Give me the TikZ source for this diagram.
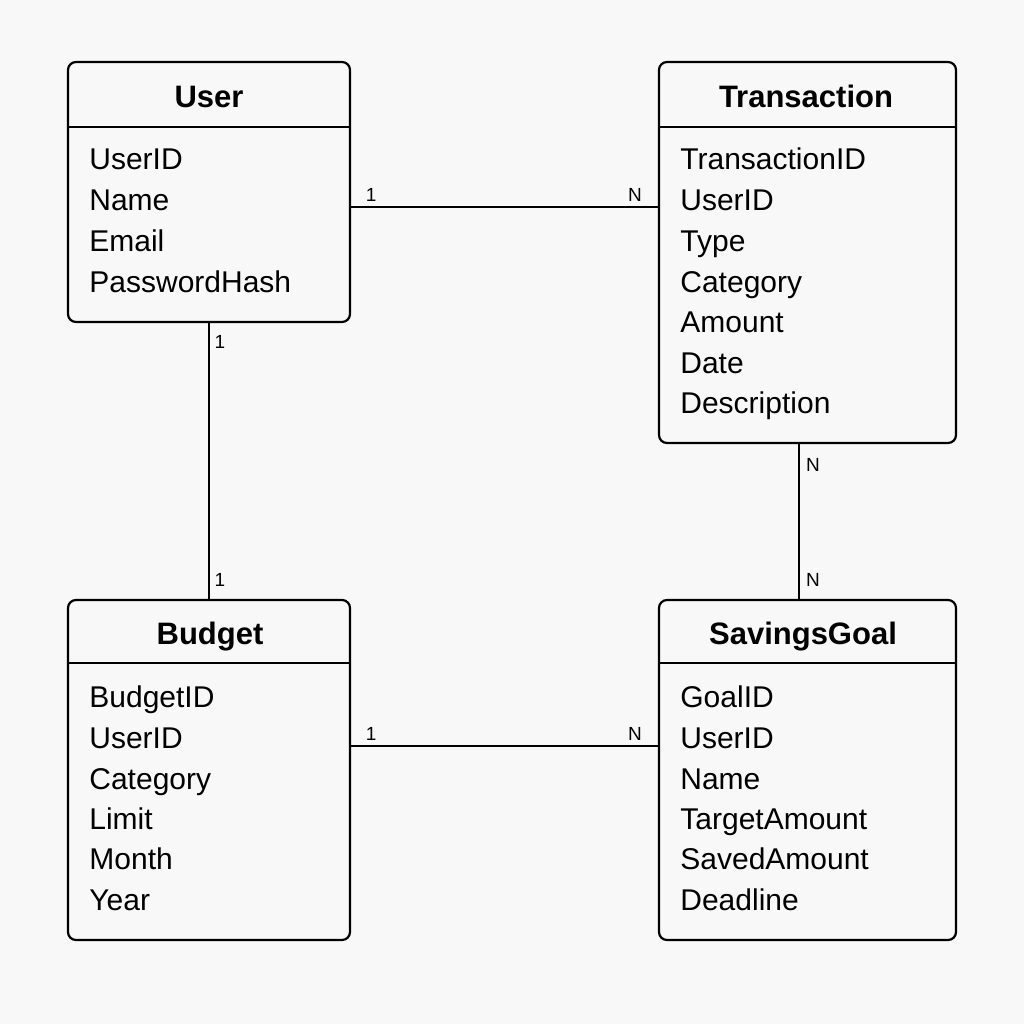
\documentclass[tikz,border=0pt]{standalone}
\usepackage{fontspec}
\setmainfont{Liberation Sans}
\usepackage{tikz}

\definecolor{paper}{RGB}{248,248,248}
\tikzset{
  entity/.style={draw, line width=1.1pt, rounded corners=4pt, fill=paper, inner sep=0pt},
  title/.style={anchor=base, font=\fontsize{15.5}{18}\selectfont\bfseries},
  attr/.style={anchor=base west, inner sep=0pt, font=\fontsize{15}{18}\selectfont},
  link/.style={line width=1pt},
  lbl/.style={font=\fontsize{9.5}{11}\selectfont, inner sep=0pt}
}

\begin{document}
\begin{tikzpicture}[x=0.5pt, y=-0.5pt]
    \fill[paper] (0,0) rectangle (1024,1024);

    % boxes
    \node[entity, minimum width=141pt, minimum height=130pt] (user) at (209,192) {};
    \node[entity, minimum width=148.5pt, minimum height=190.5pt] (trans) at (807.5,252.5) {};
    \node[entity, minimum width=141pt, minimum height=170pt] (budget) at (209,770) {};
    \node[entity, minimum width=148.5pt, minimum height=170pt] (goal) at (807.5,770) {};

    \draw[line width=1.1pt] (68,127) -- (350,127);
    \draw[line width=1.1pt] (659,127) -- (956,127);
    \draw[line width=1.1pt] (68,663) -- (350,663);
    \draw[line width=1.1pt] (659,663) -- (956,663);

    % titles
    \node[title] (usert) at (209,107) {User};
    \node[title] (transt) at (806,107) {Transaction};
    \node[title] (budgett) at (210,644) {Budget};
    \node[title] (goalt) at (803,644) {SavingsGoal};

    % User
    \node[attr] (u1) at (89,169) {UserID};
    \node[attr] (u2) at (89,210) {Name};
    \node[attr] (u3) at (89,251) {Email};
    \node[attr] (u4) at (89,292) {PasswordHash};

    % Transaction
    \node[attr] (t1) at (680,169) {TransactionID};
    \node[attr] (t2) at (680,210) {UserID};
    \node[attr] (t3) at (680,251) {Type};
    \node[attr] (t4) at (680,292) {Category};
    \node[attr] (t5) at (680,332) {Amount};
    \node[attr] (t6) at (680,373) {Date};
    \node[attr] (t7) at (680,413) {Description};

    % Budget
    \node[attr] (b1) at (89,707) {BudgetID};
    \node[attr] (b2) at (89,748) {UserID};
    \node[attr] (b3) at (89,789) {Category};
    \node[attr] (b4) at (89,829) {Limit};
    \node[attr] (b5) at (89,869) {Month};
    \node[attr] (b6) at (89,910) {Year};

    % SavingsGoal
    \node[attr] (g1) at (680,707) {GoalID};
    \node[attr] (g2) at (680,748) {UserID};
    \node[attr] (g3) at (680,789) {Name};
    \node[attr] (g4) at (680,829) {TargetAmount};
    \node[attr] (g5) at (680,869) {SavedAmount};
    \node[attr] (g6) at (680,910) {Deadline};

    % relations
    \draw[link] ([yshift=-7.5pt]user.east) -- ([yshift=-7.5pt]user.east -| trans.west)
        node[lbl, at start, xshift=10pt, yshift=6pt] {1}
        node[lbl, at end, xshift=-11.5pt, yshift=6pt] {N};
    \draw[link] (user.south) -- (budget.north)
        node[lbl, at start, xshift=5.5pt, yshift=-9.5pt] {1}
        node[lbl, at end, xshift=5.5pt, yshift=9.5pt] {1};
    \draw[link] ([xshift=-4.25pt]trans.south) -- ([xshift=-4.25pt]goal.north)
        node[lbl, at start, xshift=7pt, yshift=-10.5pt] {N}
        node[lbl, at end, xshift=7pt, yshift=9.5pt] {N};
    \draw[link] ([yshift=12pt]budget.east) -- ([yshift=12pt]budget.east -| goal.west)
        node[lbl, at start, xshift=10pt, yshift=6pt] {1}
        node[lbl, at end, xshift=-11.5pt, yshift=6pt] {N};
\end{tikzpicture}
\end{document}
